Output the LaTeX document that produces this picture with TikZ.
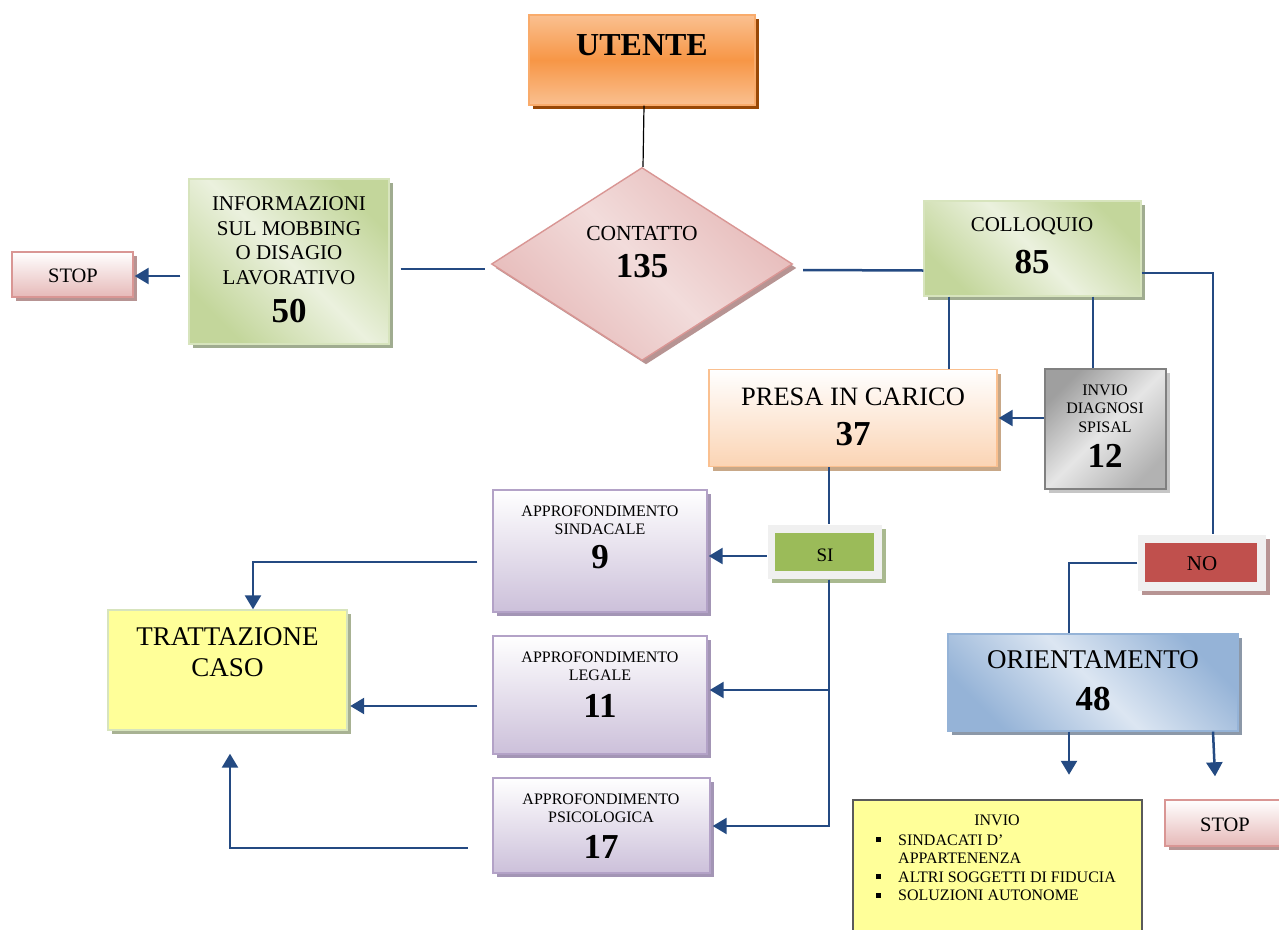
\documentclass[tikz,border=0pt]{standalone}
\usepackage{fontspec}
\setmainfont{Liberation Serif}
\usetikzlibrary{shapes.geometric,shadows,arrows.meta}
\definecolor{lblue}{RGB}{36,74,130}
\definecolor{orA}{HTML}{FAC090}
\definecolor{orB}{HTML}{F79646}
\definecolor{orS}{HTML}{984807}
\definecolor{pkA}{HTML}{F2DCDB}
\definecolor{pkB}{HTML}{E6B9B8}
\definecolor{pkBd}{HTML}{D99694}
\definecolor{pkS}{HTML}{B79493}
\definecolor{gnA}{HTML}{EBF1DE}
\definecolor{gnB}{HTML}{C3D69B}
\definecolor{gnBd}{HTML}{D7E4BD}
\definecolor{gnS}{HTML}{A0AC90}
\definecolor{peA}{HTML}{FBD4B4}
\definecolor{peBd}{HTML}{FAC090}
\definecolor{peS}{HTML}{C8A888}
\definecolor{puA}{HTML}{CCC0DA}
\definecolor{puBd}{HTML}{B3A2C7}
\definecolor{puS}{HTML}{A395B5}
\definecolor{blA}{HTML}{DCE6F2}
\definecolor{blB}{HTML}{95B3D7}
\definecolor{blS}{HTML}{8C98A8}
\definecolor{yel}{HTML}{FFFF99}
\definecolor{siG}{HTML}{9BBB59}
\definecolor{siS}{HTML}{A9B98F}
\definecolor{noR}{HTML}{C0504D}
\definecolor{noS}{HTML}{B79493}
\definecolor{frm}{HTML}{F0F0F0}
\definecolor{trS}{HTML}{A8B293}
\definecolor{ivBd}{HTML}{5A5A5A}
\newcommand\fsz[2]{\fontsize{#1}{#2}\selectfont}
\newcommand\bul{\rule[3pt]{5pt}{5pt}}
\begin{document}
\begin{tikzpicture}[x=1pt,y=-1pt,
  box/.style={rectangle,inner sep=0pt,line width=1.4pt},
  shd/.style={drop shadow={shadow xshift=4pt,shadow yshift=-4pt,fill=#1,opacity=1}},
  diag/.style 2 args={top color=#1,bottom color=#1,middle color=#2,shading angle=-45},
  vert/.style 2 args={top color=#1,bottom color=#2},
  txt/.style={inner sep=0pt,align=center,font=\fsz{21}{24}},
  conn/.style={draw=lblue,line width=2.5pt},
  arr/.style={conn,-{Triangle[length=14pt,width=16pt]}}]
\useasboundingbox (0,0) rectangle (1279,929);
\clip (0,0) rectangle (1279,929);
\fill[white] (0,0) rectangle (1279,929);

% UTENTE
\node[box,draw=orB!80,top color=orA,bottom color=orA,middle color=orB,shd=orS,minimum width=226pt,minimum height=90pt] (utente) at (642,60) {};
\node[txt,font=\fsz{32}{34}\bfseries] (utenteT) at (642,45) {UTENTE};

% CONTATTO
\node[diamond,inner sep=0pt,draw=pkBd,line width=1.4pt,diag={pkB}{pkA},shd=pkS,minimum width=301pt,minimum height=193pt] (contatto) at (642,264) {};
\node[txt,font=\fsz{21.5}{24}] (contattoT) at (642,252.5) {CONTATTO\\[13pt]{\fsz{35}{38}\bfseries 135}};

% INFORMAZIONI
\node[box,draw=gnBd,diag={gnB}{gnA},shd=gnS,minimum width=200pt,minimum height=165pt] (info) at (289,261.5) {};
\node[txt,font=\fsz{21}{24.5}] (infoT) at (289,260) {INFORMAZIONI\\SUL MOBBING\\O DISAGIO\\LAVORATIVO\\[14pt]{\fsz{35}{38}\bfseries 50}};

% STOP left
\node[box,draw=pkBd,vert={white}{pkB},shd=pkS,minimum width=121pt,minimum height=45pt] (stopL) at (72.5,274.5) {};
\node[txt,font=\fsz{20.5}{24}] (stopLT) at (73,275.5) {STOP};

% COLLOQUIO
\node[box,draw=gnBd,diag={gnB}{gnA},shd=gnS,minimum width=217pt,minimum height=95pt] (colloquio) at (1032.5,248.5) {};
\node[txt] (colloquioT) at (1032,246) {COLLOQUIO\\[14pt]{\fsz{35}{38}\bfseries 85}};

% PRESA IN CARICO
\node[box,draw=peBd,vert={white}{peA},shd=peS,minimum width=288pt,minimum height=97pt] (presa) at (853,418) {};
\node[txt,font=\fsz{26.5}{30}] (presaT) at (853,416.5) {PRESA IN CARICO\\[10pt]{\fsz{35}{38}\bfseries 37}};

% INVIO DIAGNOSI SPISAL
\node[box,draw=gray,line width=2.5pt,top color=gray!75,bottom color=gray!60,middle color=gray!20,shading angle=45,shd=gray!45,minimum width=121pt,minimum height=120pt] (diagnosi) at (1105.5,429) {};
\node[txt,font=\fsz{16}{18.5}] (diagnosiT) at (1105,426) {INVIO\\DIAGNOSI\\SPISAL\\[11pt]{\fsz{35}{38}\bfseries 12}};

% SI
\node[box,fill=frm,shd=siS,minimum width=114pt,minimum height=54pt] (si) at (824.5,552) {};
\node[box,fill=siG,minimum width=99pt,minimum height=38pt] (siIn) at (824.5,552) {};
\node[txt,font=\fsz{19}{22}] (siT) at (825,555) {SI};

% NO
\node[box,fill=frm,shd=noS,minimum width=128pt,minimum height=56pt] (no) at (1202,563) {};
\node[box,fill=noR,minimum width=112pt,minimum height=39pt] (noIn) at (1201,562.5) {};
\node[txt] (noT) at (1202,564) {NO};

% APPROFONDIMENTI
\node[box,draw=puBd,vert={white}{puA},shd=puS,minimum width=214pt,minimum height=122pt] (sind) at (600,551) {};
\node[txt,font=\fsz{16}{18}] (sindT) at (600,537.5) {APPROFONDIMENTO\\SINDACALE\\[10pt]{\fsz{35}{38}\bfseries 9}};
\node[box,draw=puBd,vert={white}{puA},shd=puS,minimum width=214pt,minimum height=118pt] (legale) at (600,695) {};
\node[txt,font=\fsz{16}{18}] (legaleT) at (600,685) {APPROFONDIMENTO\\LEGALE\\[13pt]{\fsz{35}{38}\bfseries 11}};
\node[box,draw=puBd,vert={white}{puA},shd=puS,minimum width=217pt,minimum height=95pt] (psico) at (601.5,825.5) {};
\node[txt,font=\fsz{16}{18}] (psicoT) at (601,826.5) {APPROFONDIMENTO\\PSICOLOGICA\\[12pt]{\fsz{35}{38}\bfseries 17}};

% TRATTAZIONE CASO
\node[box,draw=gnBd,fill=yel,shd=trS,minimum width=239pt,minimum height=120pt] (tratt) at (227.5,670) {};
\node[txt,font=\fsz{27}{31}] (trattT) at (227.5,652.5) {TRATTAZIONE\\CASO};

% ORIENTAMENTO
\node[box,draw=blB,diag={blB}{blA},shd=blS,minimum width=290pt,minimum height=97pt] (orient) at (1093,682.5) {};
\node[txt,font=\fsz{27}{30}] (orientT) at (1093,680.5) {ORIENTAMENTO\\[11.7pt]{\fsz{35}{38}\bfseries 48}};

% INVIO list
\node[box,draw=ivBd,line width=2.5pt,fill=yel,minimum width=289pt,minimum height=150pt] (invio) at (997.5,875) {};
\node[txt,font=\fsz{16}{18.5}] (invioT) at (997,820.5) {INVIO};
\node[inner sep=0pt,align=left,anchor=north west,font=\fsz{16}{18.5}] (invioL) at (875.5,834.2) {\makebox[22.5pt][l]{\bul}SINDACATI D’\\\hspace*{22.5pt}APPARTENENZA\\\makebox[22.5pt][l]{\bul}ALTRI SOGGETTI DI FIDUCIA\\\makebox[22.5pt][l]{\bul}SOLUZIONI AUTONOME};

% STOP right
\node[box,draw=pkBd,vert={white}{pkB},shd=pkS,minimum width=122pt,minimum height=46pt] (stopR) at (1226,823) {};
\node[txt,font=\fsz{20.5}{24}] (stopRT) at (1225,824.5) {STOP};

% connectors
\draw[black,line width=1.2pt] ([xshift=2pt]utente.south) -- ([xshift=1pt]contatto.north);
\draw[conn] ([xshift=11pt,yshift=-7.5pt]info.east) -- ([xshift=-6pt,yshift=-5pt]contatto.west);
\draw[arr] ([xshift=-8pt,yshift=-14.5pt]info.west) -- ([xshift=1pt,yshift=-1.5pt]stopL.east);
\draw[conn] ([xshift=10pt,yshift=-6pt]contatto.east) -- ([yshift=-22pt]colloquio.west);
\draw[conn] ([yshift=-24.5pt]colloquio.east) -| ([xshift=11pt]no.north);
\draw[conn] ([xshift=-83.5pt]colloquio.south) -- ([xshift=96pt]presa.north);
\draw[conn] ([xshift=60.5pt]colloquio.south) -- ([xshift=-12.5pt]diagnosi.north);
\draw[arr] ([yshift=11pt]diagnosi.west) -- ([xshift=1pt]presa.east);
\draw[conn] ([xshift=-24pt]presa.south) -- ([xshift=4.5pt]si.north);
\draw[arr] ([yshift=-4pt]si.west) -- ([xshift=1pt,yshift=-5pt]sind.east);
\draw[arr] ([xshift=4.5pt]si.south) |- ([xshift=2pt,yshift=5pt]legale.east);
\draw[arr] ([xshift=4.5pt]si.south) |- ([xshift=2pt,yshift=-0.5pt]psico.east);
\draw[arr] ([xshift=-15pt,yshift=-11pt]sind.west) -| ([xshift=25.5pt]tratt.north);
\draw[arr] ([xshift=-15pt,yshift=-11pt]legale.west) -- ([xshift=2.5pt,yshift=-36pt]tratt.east);
\draw[arr] ([xshift=-24.5pt,yshift=-22.5pt]psico.west) -| ([xshift=2.5pt,yshift=-23pt]tratt.south);
\draw[conn] (no.west) -| ([xshift=-24pt]orient.north);
\draw[arr] ([xshift=-24pt]orient.south) -- ([xshift=71.5pt,yshift=24pt]invio.north);
\draw[arr] ([xshift=120pt]orient.south) -- ([xshift=-11pt,yshift=23pt]stopR.north);
\end{tikzpicture}
\end{document}
